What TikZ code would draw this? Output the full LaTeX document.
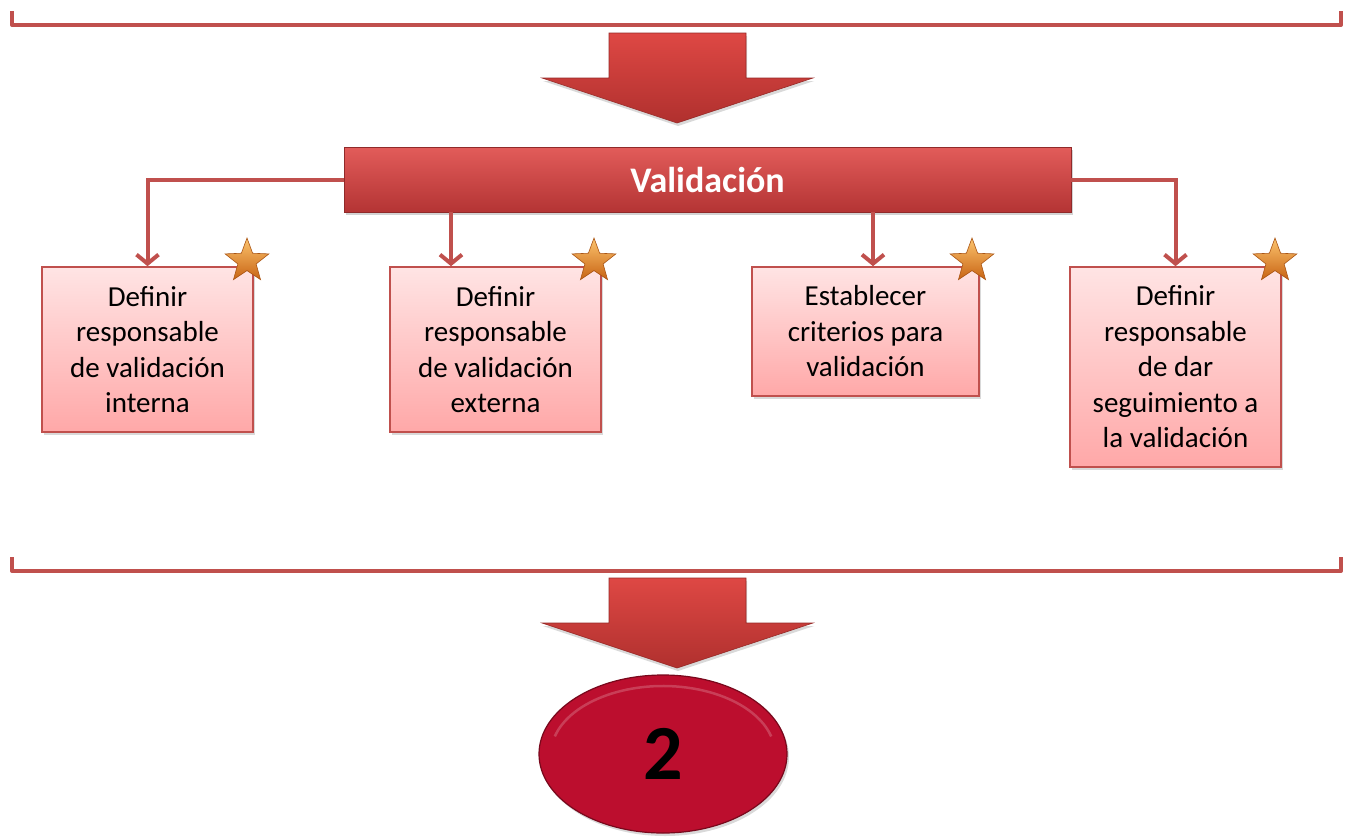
\documentclass[tikz,border=0pt]{standalone}
\usepackage{fontspec}
\setmainfont{Carlito}
\usetikzlibrary{arrows.meta,shapes.geometric,shadows}
\definecolor{linered}{RGB}{192,80,77}
\definecolor{valtop}{RGB}{226,92,90}
\definecolor{valbot}{RGB}{180,52,52}
\definecolor{boxtop}{RGB}{255,228,228}
\definecolor{boxbot}{RGB}{255,168,168}
\definecolor{startop}{RGB}{252,196,110}
\definecolor{starbot}{RGB}{200,100,20}
\definecolor{stardraw}{RGB}{170,85,20}
\definecolor{ovalred}{RGB}{188,14,46}
\definecolor{ovaldark}{RGB}{120,8,28}
\definecolor{arrtop}{RGB}{222,72,68}
\definecolor{arrbot}{RGB}{176,48,46}
\tikzset{
  bracketline/.style={draw=linered,line width=4pt,line join=round},
  conn/.style={draw=linered,line width=4pt,-{Straight Barb[length=9pt,width=22pt,line width=4pt]}},
  valbox/.style={rectangle,inner sep=0pt,minimum width=727pt,minimum height=65pt,
    top color=valtop,bottom color=valbot,draw=valbot!80!black,line width=0.8pt,
    text=white,font=\fontsize{36}{40}\selectfont\bfseries,
    drop shadow={opacity=0.35,shadow xshift=2pt,shadow yshift=-3pt}},
  taskbox/.style={rectangle,inner sep=0pt,minimum width=211pt,text width=205pt,align=flush center,
    top color=boxtop,bottom color=boxbot,draw=linered,line width=1.6pt,
    font=\fontsize{29}{35.5}\selectfont,
    drop shadow={opacity=0.3,shadow xshift=2pt,shadow yshift=-3pt}},
  staricon/.style={star,star points=5,star point ratio=2.4,minimum size=46pt,inner sep=0pt,
    top color=startop,bottom color=starbot,draw=stardraw,line width=0.6pt},
  blockarrow/.style={top color=arrtop,bottom color=arrbot,draw=arrbot!85!black,line width=0.6pt,
    drop shadow={opacity=0.3,shadow xshift=1pt,shadow yshift=-3pt}},
  oval/.style={ellipse,minimum width=248pt,minimum height=158pt,inner sep=0pt,
    fill=ovalred,draw=ovaldark,line width=1.2pt,font=\fontsize{78}{80}\selectfont\bfseries,
    drop shadow={opacity=0.3,shadow xshift=2pt,shadow yshift=-3pt}}
}
\begin{document}
\begin{tikzpicture}[x=1pt,y=-1pt]
\useasboundingbox (0,0) rectangle (1349,838);
% top bracket
\draw[bracketline] (12,11) -- (12,25) -- (1341,25) -- (1341,11);
% top block arrow
\path[blockarrow] (609,33) -- (746,33) -- (746,78) -- (813,78) -- (677,123) -- (542,78) -- (609,78) -- cycle;
% main box
\node[valbox] (val) at (707.5,179.5) {Validación};
% task boxes
\node[taskbox,minimum height=165pt] (b1) at (147.5,349.5) {Definir\\responsable\\de validación\\interna};
\node[taskbox,minimum height=165pt] (b2) at (495.5,349.5) {Definir\\responsable\\de validación\\externa};
\node[taskbox,minimum width=227pt,text width=221pt,minimum height=129pt] (b3) at (865.5,331.5) {Establecer\\criterios para\\validación};
\node[taskbox,minimum height=200pt] (b4) at (1175.5,367) {Definir\\responsable\\de dar\\seguimiento a\\la validación};
% stars
\node[staricon] (s1) at (247,261) {};
\node[staricon] (s2) at (594,261) {};
\node[staricon] (s3) at (972,261) {};
\node[staricon] (s4) at (1275,261) {};
% connectors
\coordinate (c2) at (451,0);
\coordinate (c3) at (873,0);
\draw[conn] (val.west) -| (b1.north);
\draw[conn] (val.south -| c2) -- (b2.north -| c2);
\draw[conn] (val.south -| c3) -- (b3.north -| c3);
\draw[conn] (val.east) -| (b4.north);
% bottom bracket
\draw[bracketline] (12,557) -- (12,571) -- (1341,571) -- (1341,557);
% bottom block arrow
\path[blockarrow] (609,578) -- (746,578) -- (746,623) -- (813,623) -- (677,668) -- (542,623) -- (609,623) -- cycle;
% oval
\node[oval] (two) at (663,754) {2};
\draw[white,opacity=0.2,line width=2.5pt] (two.center) ++(165:112pt and 68pt) arc[start angle=165,end angle=15,x radius=112pt,y radius=68pt];
\end{tikzpicture}
\end{document}
